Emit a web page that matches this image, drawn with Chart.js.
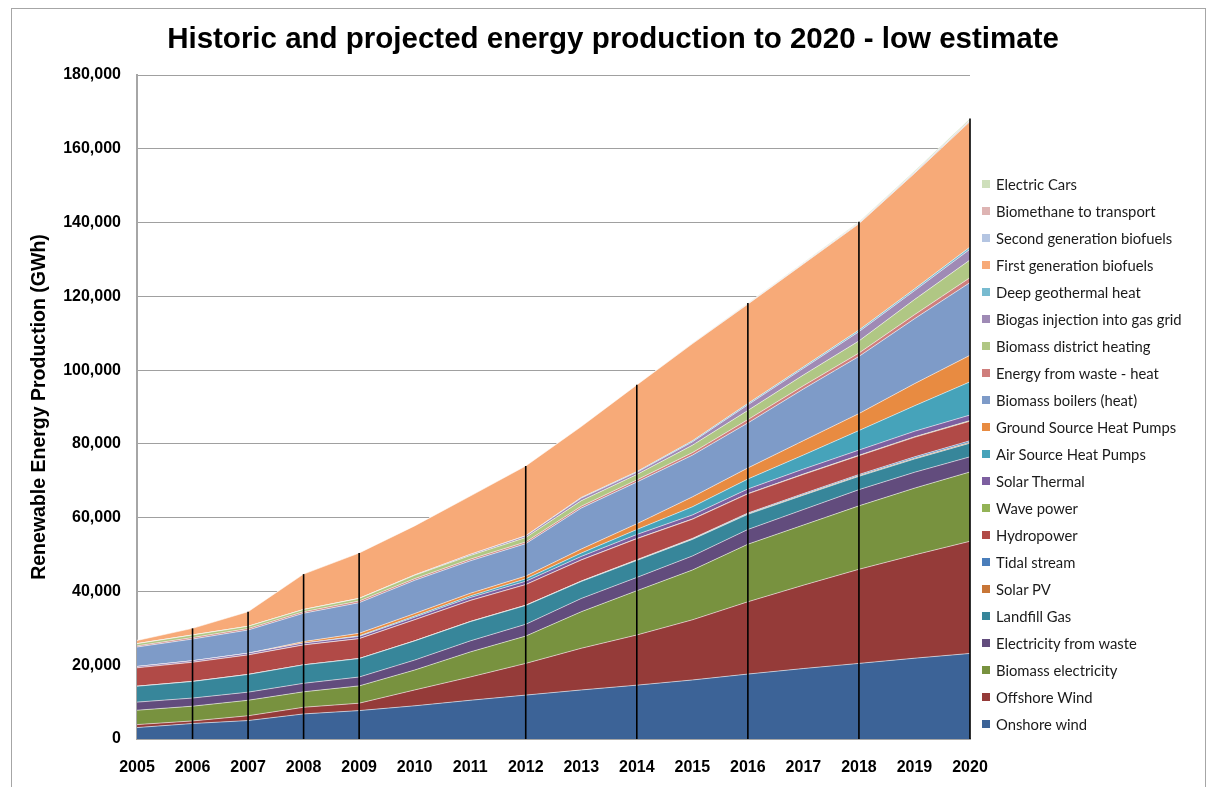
<!DOCTYPE html>
<html>
<head>
<meta charset="utf-8">
<title>Historic and projected energy production to 2020 - low estimate</title>
<script src="https://cdn.jsdelivr.net/npm/chart.js@4.4.1/dist/chart.umd.min.js"></script>
<style>
    html, body { margin: 0; padding: 0; background: #fff; }
    #wrap { position: relative; width: 1210px; height: 787px; overflow: hidden; }
    #frame { position: absolute; left: 11px; top: 8px; width: 1193px; height: 820px; border: 1px solid #a6a6a6; }
    #chartTitle {
        position: absolute; left: 0; top: 21px; width: 1226px; text-align: center;
        font: bold 29.5px "Liberation Sans", Arial, sans-serif; line-height: 34px; color: #000;
    }
    #legend {
        position: absolute; left: 982px; top: 170px; margin: 0; padding: 0; list-style: none;
        font: 14.8px Lato, "Open Sans", sans-serif; color: #1a1a1a;
    }
    #legend li { height: 27px; display: flex; align-items: center; white-space: nowrap; }
    #legend .swatch { width: 8px; height: 8px; margin-right: 6px; flex: none; }
    canvas { position: absolute; left: 0; top: 0; }
</style>
</head>
<body>
<div id="wrap">
    <div id="frame"></div>
    <canvas id="energyChart" width="1210" height="787"></canvas>
    <div id="chartTitle">Historic and projected energy production to 2020 - low estimate</div>
    <ul id="legend"></ul>
</div>
<script>
// Years on the category axis
const years = ['2005', '2006', '2007', '2008', '2009', '2010', '2011', '2012',
               '2013', '2014', '2015', '2016', '2017', '2018', '2019', '2020'];

// GWh per technology, bottom of the stack first
const onshoreWind         = [3100, 4200, 5000, 6800, 7700, 9000, 10500, 11900, 13300, 14600, 16000, 17600, 19100, 20500, 21900, 23200];
const offshoreWind        = [800, 700, 1300, 1800, 2000, 4300, 6300, 8600, 11300, 13600, 16300, 19600, 22600, 25500, 28000, 30400];
const biomassElectricity  = [3900, 4000, 4200, 4200, 4700, 5400, 6800, 7400, 9900, 12000, 13500, 15600, 16300, 17200, 18100, 18800];
const electricityFromWaste = [2200, 2200, 2200, 2300, 2400, 2700, 3000, 3200, 3600, 3600, 3800, 4000, 4200, 4400, 4300, 4100];
const landfillGas         = [4300, 4500, 4800, 5000, 5000, 5200, 5200, 5100, 4600, 4600, 4500, 4100, 3900, 3600, 3600, 3700];
const solarPV             = [0, 0, 0, 0, 10, 20, 40, 60, 80, 100, 120, 150, 180, 200, 230, 260];
const tidalStream         = [0, 0, 0, 0, 0, 0, 0, 0, 50, 100, 150, 200, 250, 300, 350, 400];
const hydropower          = [5000, 5200, 5300, 5400, 5400, 5700, 5700, 5600, 5700, 5700, 5200, 5200, 5200, 5100, 5300, 5300];
const wavePower           = [0, 0, 0, 0, 0, 0, 0, 0, 20, 40, 60, 80, 100, 120, 140, 160];
const solarThermal        = [350, 400, 450, 500, 600, 700, 800, 900, 950, 1100, 1100, 1250, 1350, 1400, 1500, 1500];
const airSourceHP         = [0, 0, 0, 0, 150, 300, 450, 650, 900, 1350, 2200, 2700, 3800, 5300, 6900, 9000];
const groundSourceHP      = [0, 0, 0, 400, 700, 700, 700, 750, 1100, 1550, 2700, 3000, 3900, 4600, 6000, 7200];
const biomassBoilers      = [5300, 5900, 6300, 7700, 8300, 9000, 8800, 8800, 11100, 11300, 11300, 12200, 14000, 15500, 17600, 19700];
const wasteHeat           = [300, 400, 400, 400, 450, 450, 450, 450, 500, 600, 700, 900, 900, 900, 1100, 1350];
const districtHeating     = [600, 700, 600, 600, 700, 900, 1000, 1200, 1500, 1450, 2000, 2500, 2900, 3300, 4100, 4800];
const biogasInjection     = [0, 0, 0, 0, 0, 100, 300, 450, 700, 600, 900, 1500, 1800, 2500, 2400, 2900];
const deepGeothermal      = [0, 0, 0, 0, 0, 0, 0, 50, 200, 200, 300, 400, 400, 450, 500, 600];
const firstGenBiofuels    = [850, 1800, 3950, 9600, 12300, 13300, 15800, 18900, 19200, 23500, 26300, 26900, 27900, 28800, 31300, 34000];
const secondGenBiofuels   = [0, 0, 0, 0, 0, 0, 0, 0, 0, 0, 50, 100, 150, 200, 250, 300];
const biomethaneTransport = [0, 0, 0, 0, 0, 0, 0, 0, 0, 0, 0, 50, 50, 100, 100, 150];
const electricCars        = [0, 0, 0, 0, 0, 0, 0, 0, 0, 50, 100, 150, 200, 250, 300, 400];

const seriesNames = [
    'Onshore wind', 'Offshore Wind', 'Biomass electricity', 'Electricity from waste', 'Landfill Gas',
    'Solar PV', 'Tidal stream', 'Hydropower', 'Wave power', 'Solar Thermal',
    'Air Source Heat Pumps', 'Ground Source Heat Pumps', 'Biomass boilers (heat)', 'Energy from waste - heat',
    'Biomass district heating', 'Biogas injection into gas grid', 'Deep geothermal heat',
    'First generation biofuels', 'Second generation biofuels', 'Biomethane to transport', 'Electric Cars'
];

const seriesValues = [
    onshoreWind, offshoreWind, biomassElectricity, electricityFromWaste, landfillGas,
    solarPV, tidalStream, hydropower, wavePower, solarThermal,
    airSourceHP, groundSourceHP, biomassBoilers, wasteHeat,
    districtHeating, biogasInjection, deepGeothermal,
    firstGenBiofuels, secondGenBiofuels, biomethaneTransport, electricCars
];

const seriesColors = [
    '#3C6397', '#953B39', '#78923F', '#624C7D', '#37869A',
    '#C87637', '#4A7EBB', '#B14A47', '#93B356', '#7D5FA0',
    '#46A3BA', '#E88B41', '#7E9BC8', '#CF7E7C',
    '#B0C784', '#9F8AB5', '#78BBD0',
    '#F7AA78', '#B4C5E2', '#DEB4B3', '#CEDFBB'
];

// Years that get a vertical drop line up to the stack total
const dropLineYears = ['2006', '2007', '2008', '2009', '2012', '2014', '2016', '2018', '2020'];

const yAxisMax = 180000;
const yAxisStep = 20000;

const FONT = '"Liberation Sans", Arial, sans-serif';

// Vertical black lines from the axis to the top of the stack
const dropLines = {
    id: 'dropLines',
    afterDatasetsDraw(chart) {
        const { ctx, scales: { x, y } } = chart;
        ctx.save();
        ctx.strokeStyle = '#000';
        ctx.lineWidth = 1.6;
        dropLineYears.forEach(yr => {
            const i = years.indexOf(yr);
            const total = seriesValues.reduce((sum, arr) => sum + arr[i], 0);
            const px = x.getPixelForValue(i);
            ctx.beginPath();
            ctx.moveTo(px, y.getPixelForValue(0));
            ctx.lineTo(px, y.getPixelForValue(total));
            ctx.stroke();
        });
        ctx.restore();
    }
};

function buildLegend() {
    const list = document.getElementById('legend');
    for (let i = seriesNames.length - 1; i >= 0; i--) {
        const li = document.createElement('li');
        li.innerHTML = `<span class="swatch" style="background:${seriesColors[i]}"></span>${seriesNames[i]}`;
        list.appendChild(li);
    }
}

const datasets = seriesNames.map((name, i) => ({
    label: name,
    data: seriesValues[i],
    backgroundColor: seriesColors[i],
    borderColor: 'rgba(255, 255, 255, 0.55)',
    borderWidth: 1,
    pointRadius: 0,
    tension: 0,
    fill: i === 0 ? 'origin' : '-1'
}));

new Chart(document.getElementById('energyChart'), {
    type: 'line',
    data: { labels: years, datasets },
    plugins: [dropLines],
    options: {
        responsive: false,
        animation: false,
        devicePixelRatio: 1,
        layout: { padding: { top: 75, right: 240, bottom: 0, left: 0 } },
        plugins: {
            legend: { display: false },
            tooltip: { enabled: false }
        },
        scales: {
            x: {
                type: 'category',
                offset: false,
                grid: { display: false, drawTicks: false },
                border: { display: true, color: '#a6a6a6', width: 2 },
                ticks: {
                    color: '#000',
                    font: { family: FONT, size: 16, weight: 'bold' },
                    padding: 19,
                    maxRotation: 0,
                    autoSkip: false
                },
                afterFit(scale) { scale.height = 48; }
            },
            y: {
                stacked: true,
                min: 0,
                max: yAxisMax,
                grid: { color: '#a0a0a0', lineWidth: 1, drawTicks: false },
                border: { display: true, color: '#a6a6a6', width: 2 },
                ticks: {
                    stepSize: yAxisStep,
                    color: '#000',
                    padding: 16,
                    font: { family: FONT, size: 16, weight: 'bold' },
                    callback: v => v.toLocaleString('en-US')
                },
                title: {
                    display: true,
                    text: 'Renewable Energy Production (GWh)',
                    color: '#000',
                    font: { family: FONT, size: 19.5, weight: 'bold' },
                    padding: { top: 28, bottom: 0 }
                },
                afterFit(scale) { scale.width = 137; }
            }
        }
    }
});

buildLegend();
</script>
</body>
</html>
